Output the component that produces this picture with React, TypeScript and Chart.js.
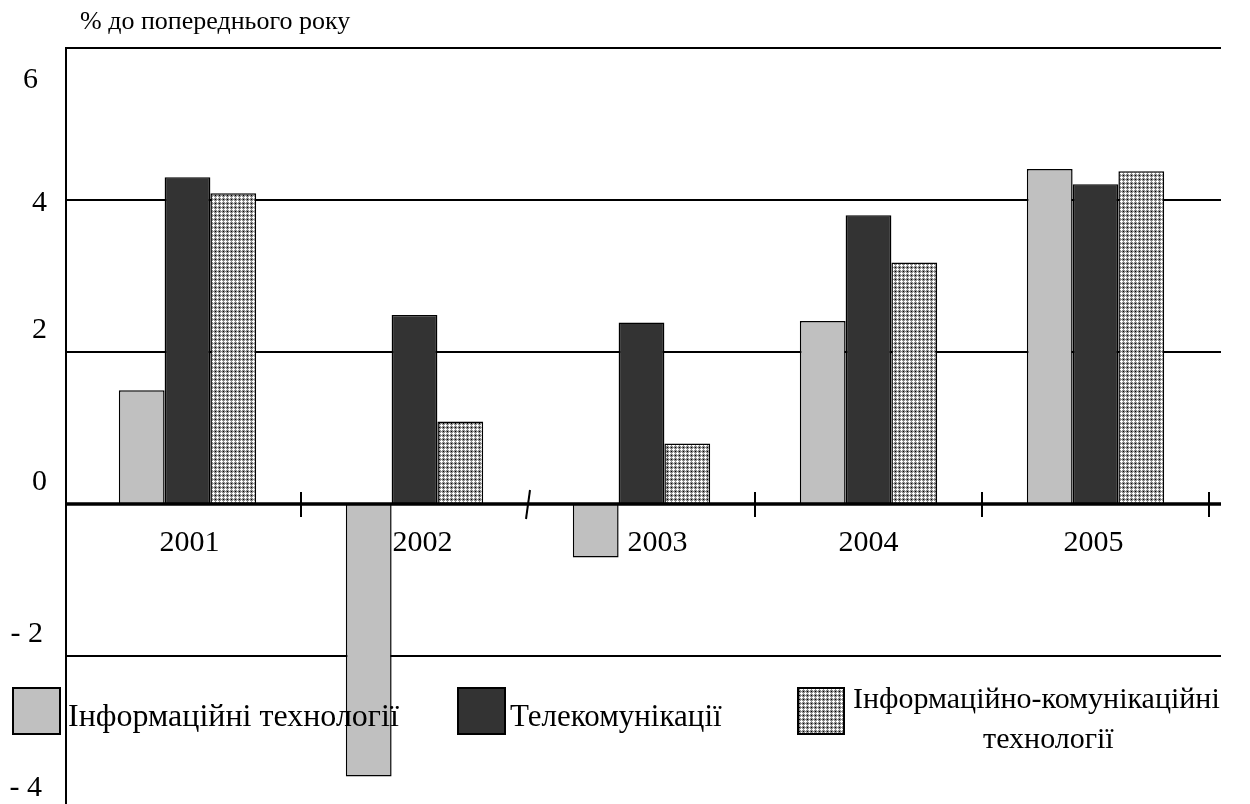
import React, { useEffect, useRef } from 'react';
import { Chart, registerables } from 'chart.js';

Chart.register(...registerables);

const categories = ['2001', '2002', '2003', '2004', '2005'];
const itValues = [1.5, -3.58, -0.7, 2.41, 4.41];
const telecomValues = [4.3, 2.49, 2.39, 3.8, 4.21];
const ictValues = [4.09, 1.09, 0.8, 3.18, 4.38];
const yTicks = [6, 4, 2, 0, -2, -4];
const yTickLabels = ['6', '4', '2', '0', '- 2', '- 4'];
const seriesNames = ['Інформаційні технології', 'Телекомунікації', 'Інформаційно-комунікаційні технології'];
const axisTitle = '% до попереднього року';

const FONT = '"Liberation Serif", "Times New Roman", serif';

function makePattern(): CanvasPattern | string {
  const c = document.createElement('canvas');
  c.width = 4;
  c.height = 4;
  const ctx = c.getContext('2d');
  if (!ctx) return '#a8a8a8';
  const map = ['gwgg', 'wwwg', 'gwgg', 'gggk'];
  const col: Record<string, string> = { g: '#8c8c8c', w: '#ffffff', k: '#000000' };
  for (let y = 0; y < 4; y++) {
    for (let x = 0; x < 4; x++) {
      ctx.fillStyle = col[map[y][x]];
      ctx.fillRect(x, y, 1, 1);
    }
  }
  return ctx.createPattern(c, 'repeat') || '#a8a8a8';
}

const decorPlugin = {
  id: 'decor',
  beforeDatasetsDraw(chart: any) {
    const { ctx, chartArea, scales } = chart;
    const y = scales.y;
    const left = chartArea.left - 8;
    const right = chartArea.right + 12;
    ctx.save();
    ctx.strokeStyle = '#000';
    ctx.lineWidth = 2;
    yTicks.forEach((v) => {
      if (v === 0) return;
      const py = Math.round(y.getPixelForValue(v));
      ctx.beginPath();
      ctx.moveTo(left, py);
      ctx.lineTo(right, py);
      ctx.stroke();
    });
    ctx.beginPath();
    ctx.moveTo(left, y.getPixelForValue(6) - 1);
    ctx.lineTo(left, chart.height);
    ctx.stroke();
    ctx.restore();
  },
  afterDatasetsDraw(chart: any) {
    const { ctx, chartArea, scales } = chart;
    const x = scales.x;
    const y = scales.y;
    const left = chartArea.left - 8;
    const right = chartArea.right + 12;
    const zeroY = Math.round(y.getPixelForValue(0));
    const step = x.getPixelForValue(1) - x.getPixelForValue(0);
    ctx.save();
    ctx.strokeStyle = '#000';
    ctx.fillStyle = '#000';
    // zero axis
    ctx.lineWidth = 3.5;
    ctx.beginPath();
    ctx.moveTo(left, zeroY);
    ctx.lineTo(right, zeroY);
    ctx.stroke();
    // tick marks between categories
    ctx.lineWidth = 2;
    for (let i = 0; i < categories.length; i++) {
      const px = x.getPixelForValue(i) + step / 2;
      ctx.beginPath();
      if (i === 1) {
        ctx.moveTo(px + 2, zeroY - 14);
        ctx.lineTo(px - 2, zeroY + 15);
      } else {
        ctx.moveTo(px, zeroY - 12);
        ctx.lineTo(px, zeroY + 13);
      }
      ctx.stroke();
    }
    // category labels
    const labelShift = [2, 8, 16, 0, -2];
    ctx.font = `30px ${FONT}`;
    ctx.textAlign = 'center';
    ctx.textBaseline = 'alphabetic';
    categories.forEach((c, i) => {
      ctx.fillText(c, x.getPixelForValue(i) + labelShift[i], zeroY + 47);
    });
    // y tick labels
    const baseShift = [40, 11, -14, -14, -14, -13];
    const rightEdge = [38, 47, 47, 47, 43, 42];
    ctx.textAlign = 'right';
    yTickLabels.forEach((t, i) => {
      ctx.fillText(t, rightEdge[i], y.getPixelForValue(yTicks[i]) + baseShift[i]);
    });
    // axis title
    ctx.font = `26px ${FONT}`;
    ctx.textAlign = 'left';
    ctx.fillText(axisTitle, 80, 29);
    // legend
    const ds = chart.data.datasets;
    const boxTop = 688;
    const boxH = 46;
    const boxes = [
      { x: 13, w: 47 },
      { x: 458, w: 47 },
      { x: 798, w: 46 },
    ];
    boxes.forEach((b, i) => {
      ctx.fillStyle = ds[i].backgroundColor;
      ctx.fillRect(b.x, boxTop, b.w, boxH);
      ctx.lineWidth = 2;
      ctx.strokeStyle = '#000';
      ctx.strokeRect(b.x, boxTop, b.w, boxH);
    });
    ctx.fillStyle = '#000';
    ctx.textAlign = 'left';
    ctx.font = `32px ${FONT}`;
    ctx.fillText(seriesNames[0], 68, 726);
    ctx.font = `31px ${FONT}`;
    ctx.fillText(seriesNames[1], 510, 726);
    const parts = seriesNames[2].split(' ');
    ctx.font = `30px ${FONT}`;
    const w0 = ctx.measureText(parts[0]).width;
    ctx.fillText(parts[0], 853, 708);
    ctx.textAlign = 'center';
    ctx.fillText(parts[1], 853 + w0 / 2 + 12, 748);
    ctx.restore();
  },
};

export default function App() {
  const ref = useRef<HTMLCanvasElement | null>(null);
  useEffect(() => {
    if (!ref.current) return;
    const pattern = makePattern();
    const chart = new Chart(ref.current, {
      type: 'bar',
      data: {
        labels: categories,
        datasets: [
          { label: seriesNames[0], data: itValues, backgroundColor: '#c0c0c0', borderColor: '#000', borderWidth: 1.5 },
          { label: seriesNames[1], data: telecomValues, backgroundColor: '#333333', borderColor: '#000', borderWidth: 1.5 },
          { label: seriesNames[2], data: ictValues, backgroundColor: pattern as any, borderColor: '#000', borderWidth: 1.5 },
        ],
      },
      options: {
        animation: false,
        responsive: true,
        maintainAspectRatio: false,
        layout: { padding: { left: 74, top: 48, right: 41, bottom: 0 } },
        datasets: { bar: { categoryPercentage: 0.605, barPercentage: 1 } },
        plugins: { legend: { display: false }, tooltip: { enabled: false }, title: { display: false } },
        scales: {
          x: { display: false },
          y: { display: false, min: -3.94, max: 6 },
        },
      },
      plugins: [decorPlugin],
    });
    return () => chart.destroy();
  }, []);
  return (
    <div style={{ position: 'fixed', left: 0, top: 0, width: 1250, height: 804, background: '#fff' }}>
      <canvas ref={ref} />
    </div>
  );
}
